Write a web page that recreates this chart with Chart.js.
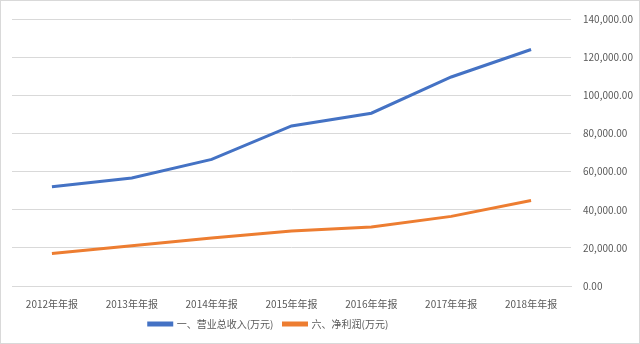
<!DOCTYPE html>
<html>
<head>
<meta charset="utf-8">
<script src="https://cdn.jsdelivr.net/npm/chart.js@4"></script>
<style>
  html, body { margin: 0; padding: 0; background: #fff; }
  #frame { position: relative; width: 640px; height: 344px; box-sizing: border-box; border: 1px solid #d9d9d9; }
  #box { position: absolute; left: 0; top: 0; width: 638px; height: 342px; }
</style>
</head>
<body>
<div id="frame"><div id="box"><canvas id="chart"></canvas></div></div>
<script>
const years = ['2012年年报', '2013年年报', '2014年年报', '2015年年报', '2016年年报', '2017年年报', '2018年年报'];
const revenue = [52000, 56600, 66400, 83900, 90600, 109600, 124000];
const netProfit = [17000, 21100, 25200, 28800, 30900, 36500, 44800];
const seriesNames = ['一、营业总收入(万元)', '六、净利润(万元)'];

const fontFamily = '"Noto Sans CJK SC", "Noto Sans", sans-serif';

// nudge the legend left, like the Excel original
const legendShift = {
  id: 'legendShift',
  afterLayout(chart) {
    chart.legend.left -= 57;
    chart.legend.right -= 57;
  }
};

new Chart(document.getElementById('chart'), {
  type: 'line',
  data: {
    labels: years,
    datasets: [
      {
        label: seriesNames[0],
        data: revenue,
        borderColor: '#4472c4',
        backgroundColor: '#4472c4',
        borderWidth: 3,
        pointRadius: 0,
        tension: 0,
      },
      {
        label: seriesNames[1],
        data: netProfit,
        borderColor: '#ed7d31',
        backgroundColor: '#ed7d31',
        borderWidth: 3,
        pointRadius: 0,
        tension: 0,
      },
    ]
  },
  options: {
    responsive: true,
    maintainAspectRatio: false,
    animation: false,
    layout: { padding: { left: 11, right: 0, top: 11, bottom: 4 } },
    scales: {
      x: {
        offset: true,
        grid: { display: false },
        border: { color: '#d9d9d9' },
        ticks: { color: '#595959', font: { family: fontFamily, size: 10 }, padding: 4, maxRotation: 0 },
        afterFit: (axis) => { axis.height = 23; },
      },
      y: {
        position: 'right',
        min: 0,
        max: 140000,
        grid: { color: '#d9d9d9', drawTicks: false },
        border: { display: false },
        ticks: {
          stepSize: 20000,
          color: '#595959',
          font: { family: fontFamily, size: 10 },
          padding: 12,
          callback: (v) => v.toLocaleString('en-US', { minimumFractionDigits: 2, maximumFractionDigits: 2 }),
        },
        afterFit: (axis) => { axis.width = 68; },
      },
    },
    plugins: {
      legend: {
        position: 'bottom',
        labels: {
          boxWidth: 23,
          boxHeight: 2,
          padding: 10,
          color: '#595959',
          font: { family: fontFamily, size: 10 },
        },
      },
      tooltip: { enabled: false },
    },
  },
  plugins: [legendShift],
});
</script>
</body>
</html>
